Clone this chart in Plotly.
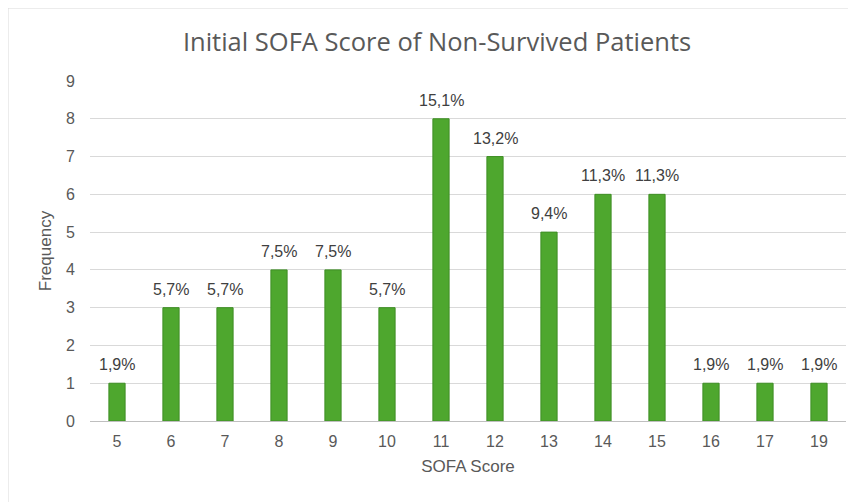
import plotly.graph_objects as go

categories = ["5", "6", "7", "8", "9", "10", "11", "12", "13", "14", "15", "16", "17", "19"]
frequency = [1, 3, 3, 4, 4, 3, 8, 7, 5, 6, 6, 1, 1, 1]
percent_labels = ["1,9%", "5,7%", "5,7%", "7,5%", "7,5%", "5,7%", "15,1%", "13,2%",
                  "9,4%", "11,3%", "11,3%", "1,9%", "1,9%", "1,9%"]
y_ticks = list(range(0, 10))

# page body has an 8px margin, so the figure starts at (8, 8) on screen
W, H = 848, 494
ml, mr, mt, mb = 82, 10, 73, 81
pw, ph = W - ml - mr, H - mt - mb

def px_x(x):
    return (x - ml) / pw

def px_y(y):
    return (H - mb - y) / ph

FONT = "Liberation Sans, Arial"

fig = go.Figure()
fig.add_trace(go.Bar(
    x=categories, y=frequency,
    marker=dict(color="#4EA72E", line=dict(color="#3E8E24", width=1)),
    width=0.3,
))

# category axis: annotations positioned by category index
for i, (v, t) in enumerate(zip(frequency, percent_labels)):
    fig.add_annotation(x=i, y=v, text=t, showarrow=False, yanchor="bottom",
                       yshift=8, font=dict(family=FONT, size=16, color="#404040"))

fig.update_layout(
    width=W, height=H,
    margin=dict(l=ml, r=mr, t=mt, b=mb),
    paper_bgcolor="white", plot_bgcolor="white",
    showlegend=False,
    font=dict(family=FONT, color="#595959"),
    title=dict(text="Initial SOFA Score of Non-Survived Patients",
               x=px_x(429), xref="paper", xanchor="center",
               y=1 - 34 / H, yanchor="middle",
               font=dict(family="Open Sans, Noto Sans", size=25.5, color="#595959")),
    xaxis=dict(type="category", showgrid=False, showline=True, linecolor="#BFBFBF",
               linewidth=1, ticks="", tickfont=dict(size=16, color="#595959"),
               ticklabelstandoff=6, range=[-0.5, len(categories) - 0.5],
               title=dict(text="SOFA Score", font=dict(size=17, color="#595959"), standoff=10)),
    yaxis=dict(range=[0, 9], tickvals=y_ticks, showgrid=True, gridcolor="#D9D9D9",
               gridwidth=1, zeroline=False, showline=False, ticks="",
               tickfont=dict(size=16, color="#595959"), ticklabelstandoff=14,
               title=dict(text="Frequency", font=dict(size=17, color="#595959"), standoff=10)),
    bargap=0.7,
)

fig.add_shape(type="rect", xref="paper", yref="paper",
              x0=px_x(0), x1=px_x(870), y0=px_y(520), y1=px_y(0),
              line=dict(color="#D9D9D9", width=1), fillcolor="rgba(0,0,0,0)", layer="below")

fig.write_html("out.html")
